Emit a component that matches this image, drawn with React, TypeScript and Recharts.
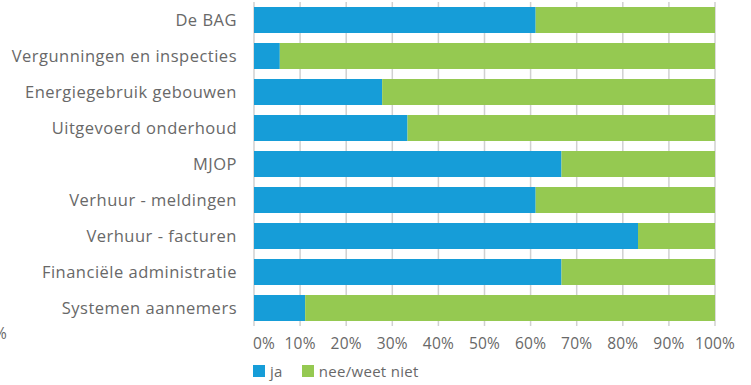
import { BarChart, Bar, XAxis, YAxis, CartesianGrid, Legend } from "recharts";

const categories = [
  "De BAG",
  "Vergunningen en inspecties",
  "Energiegebruik gebouwen",
  "Uitgevoerd onderhoud",
  "MJOP",
  "Verhuur - meldingen",
  "Verhuur - facturen",
  "Financiële administratie",
  "Systemen aannemers",
];
const ja = [61.1, 5.6, 27.8, 33.3, 66.7, 61.1, 83.3, 66.7, 11.1];
const neeWeetNiet = [38.9, 94.4, 72.2, 66.7, 33.3, 38.9, 16.7, 33.3, 88.9];
const xTicks = [0, 10, 20, 30, 40, 50, 60, 70, 80, 90, 100];

const BLUE = "#169dd8";
const GREEN = "#95c951";
const TEXT = "#686868";
const FONT = "'Open Sans', sans-serif";

const data = categories.map((name, i) => ({ name, ja: ja[i], nee: neeWeetNiet[i] }));

const legendItems = [
  { label: "ja", color: BLUE },
  { label: "nee/weet niet", color: GREEN },
];

function ChartLegend() {
  return (
    <div style={{ display: "flex", alignItems: "center", gap: 19, paddingLeft: 253, fontFamily: FONT, fontSize: 15, color: TEXT, letterSpacing: 0.3 }}>
      {legendItems.map((d) => (
        <div key={d.label} style={{ display: "flex", alignItems: "center", gap: 5 }}>
          <div style={{ width: 12, height: 12, background: d.color }} />
          <span>{d.label}</span>
        </div>
      ))}
    </div>
  );
}

// first label sits inside the plot, like the original
function PercentTick({ x, y, payload }: any) {
  const first = payload.value === 0;
  return (
    <text
      x={first ? x - 1 : x}
      y={y}
      dy="0.71em"
      textAnchor={first ? "start" : "middle"}
      fill={TEXT}
      fontSize={15.5}
      fontFamily={FONT}
      letterSpacing={0.2}
    >
      {payload.value}%
    </text>
  );
}

export default function App() {
  return (
    <div style={{ position: "absolute", left: 0, top: 0, width: 751, height: 385, background: "#fff", overflow: "hidden" }}>
      <span style={{ position: "absolute", left: -6, top: 322, fontFamily: FONT, fontSize: 15.5, color: TEXT }}>
        %
      </span>
      <BarChart
        width={751}
        height={385}
        data={data}
        layout="vertical"
        margin={{ top: 2, right: 36, bottom: 0, left: 0 }}
        barCategoryGap={5}
      >
        <CartesianGrid horizontal={false} stroke="#d0d0d0" strokeWidth={1.5} />
        <XAxis
          type="number"
          domain={[0, 100]}
          ticks={xTicks}
          axisLine={false}
          tickLine={false}
          height={35}
          tick={<PercentTick />}
          tickMargin={6}
          interval={0}
        />
        <YAxis
          type="category"
          dataKey="name"
          width={254}
          axisLine={false}
          tickLine={false}
          tickMargin={11}
          tick={{ fill: TEXT, fontSize: 16.5, fontFamily: FONT, letterSpacing: 0.5 }}
          interval={0}
        />
        <Legend verticalAlign="bottom" height={24} content={<ChartLegend />} />
        <Bar dataKey="ja" stackId="a" fill={BLUE} isAnimationActive={false} />
        <Bar dataKey="nee" stackId="a" fill={GREEN} isAnimationActive={false} />
      </BarChart>
    </div>
  );
}
